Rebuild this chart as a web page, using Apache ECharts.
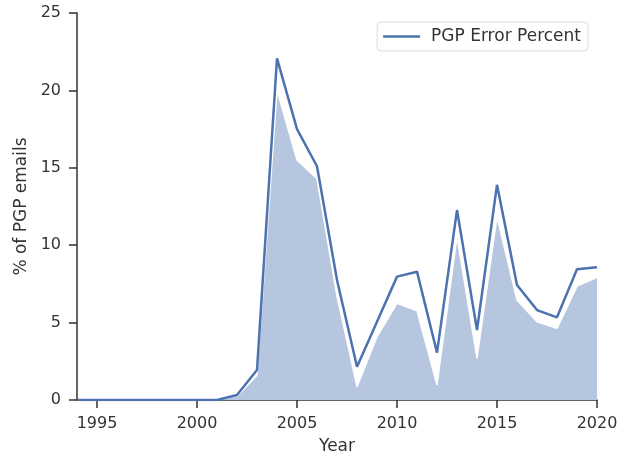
<!DOCTYPE html>
<html>
<head>
<meta charset="utf-8">
<script src="https://cdn.jsdelivr.net/npm/echarts@6/dist/echarts.min.js"></script>
<style>
html,body{margin:0;padding:0;background:#fff;}
#main{width:628px;height:457px;}
</style>
</head>
<body>
<div id="main"></div>
<script>
var years = [1994,1995,1996,1997,1998,1999,2000,2001,2002,2003,2004,2005,2006,2007,2008,2009,2010,2011,2012,2013,2014,2015,2016,2017,2018,2019,2020];
var errorPercent = [0,0,0,0,0,0,0,0,0.32,1.94,22.07,17.5,15.1,7.75,2.15,5.06,7.97,8.29,3.06,12.27,4.52,13.9,7.43,5.81,5.34,8.44,8.57];
var areaPercent = [0,0,0,0,0,0,0,0,0.25,1.6,20.0,15.5,14.3,6.7,0.86,4.09,6.25,5.77,0.97,10.55,2.69,11.84,6.46,5.06,4.63,7.36,7.93];
var xTicks = [1995,2000,2005,2010,2015,2020];

var pair = function(vals){
	return years.map(function(y,i){ return [y, vals[i]]; });
};

window.onload=function(){
	var myChart = echarts.init(document.getElementById('main'));
	var font = 'DejaVu Sans';
	var option = {
		animation: false,
		textStyle: { fontFamily: font },
		grid: { left: 77, right: 31, top: 13, bottom: 57, containLabel: false, outerBoundsMode: 'none' },
		legend: {
			data: [{ name: 'PGP Error Percent', icon: 'rect' }],
			right: 40,
			top: 22,
			itemWidth: 37,
			itemHeight: 2.5,
			padding: [6, 7, 6, 6],
			borderColor: '#dddddd',
			borderWidth: 1,
			borderRadius: 4,
			textStyle: { fontFamily: font, fontSize: 17, color: '#333', padding: [0, 0, 0, 6] }
		},
		xAxis: {
			type: 'value',
			min: 1994,
			max: 2020,
			name: 'Year',
			nameLocation: 'middle',
			nameGap: 38,
			nameTextStyle: { fontFamily: font, fontSize: 17, color: '#333' },
			splitLine: { show: false },
			axisLine: { lineStyle: { color: '#333', width: 1.5 } },
			axisTick: { show: true, length: 8, customValues: xTicks, lineStyle: { color: '#333', width: 1.5 } },
			axisLabel: { customValues: xTicks, fontSize: 16, color: '#333', margin: 16, formatter: function(v){ return String(v); } }
		},
		yAxis: {
			type: 'value',
			min: 0,
			max: 25,
			interval: 5,
			name: '% of PGP emails',
			nameLocation: 'middle',
			nameGap: 46,
			nameRotate: 90,
			nameTextStyle: { fontFamily: font, fontSize: 17, color: '#333' },
			splitLine: { show: false },
			axisLine: { show: true, lineStyle: { color: '#333', width: 1.5 } },
			axisTick: { show: true, length: 8, lineStyle: { color: '#333', width: 1.5 } },
			axisLabel: { fontSize: 16, color: '#333', margin: 16 }
		},
		series: [
			{
				name: 'area',
				type: 'line',
				data: pair(areaPercent),
				showSymbol: false,
				lineStyle: { color: '#ffffff', width: 1.5 },
				areaStyle: { color: '#b6c6de', opacity: 1 },
				z: 1
			},
			{
				name: 'PGP Error Percent',
				type: 'line',
				data: pair(errorPercent),
				showSymbol: false,
				lineStyle: { color: '#4c72b0', width: 2.5 },
				itemStyle: { color: '#4c72b0' },
				z: 3
			}
		]
	};
	myChart.setOption(option);
};
</script>
</body>
</html>
